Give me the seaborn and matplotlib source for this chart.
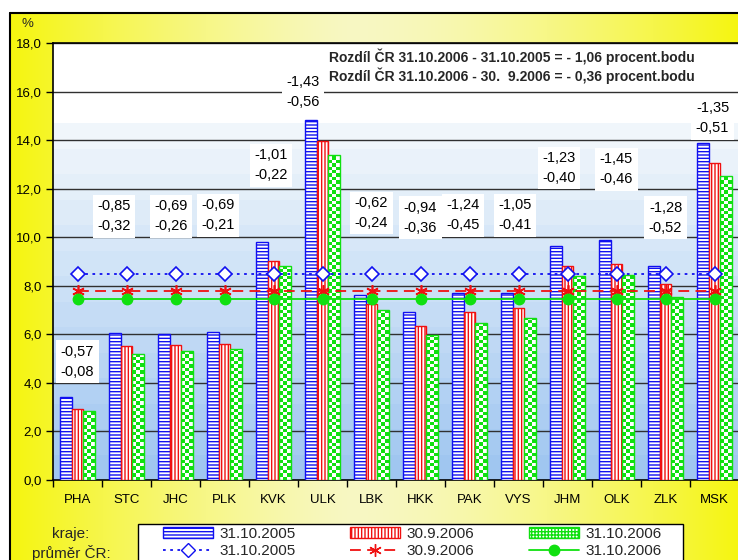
import numpy as np
import pandas as pd
import matplotlib
matplotlib.use("Agg")
import matplotlib.pyplot as plt
import seaborn as sns
from matplotlib.patches import Patch, Rectangle
from matplotlib.lines import Line2D
from matplotlib.colors import ListedColormap

# ---------------- data ----------------
regions = ["PHA", "STC", "JHC", "PLK", "KVK", "ULK", "LBK", "HKK", "PAK", "VYS",
           "JHM", "OLK", "ZLK", "MSK"]
series_labels = ["31.10.2005", "30.9.2006", "31.10.2006"]
val_2005_10 = [3.43, 6.04, 6.00, 6.08, 9.81, 14.83, 7.62, 6.93, 7.71, 7.71, 9.65, 9.88, 8.83, 13.89]
val_2006_09 = [2.94, 5.51, 5.57, 5.60, 9.02, 13.96, 7.24, 6.35, 6.92, 7.07, 8.82, 8.89, 8.07, 13.05]
val_2006_10 = [2.86, 5.19, 5.31, 5.39, 8.80, 13.40, 7.00, 5.99, 6.47, 6.66, 8.42, 8.43, 7.55, 12.54]
avg_2005_10 = 8.50
avg_2006_09 = 7.80
avg_2006_10 = 7.44
diff_year = ["-0,57", "-0,85", "-0,69", "-0,69", "-1,01", "-1,43", "-0,62", "-0,94", "-1,24",
             "-1,05", "-1,23", "-1,45", "-1,28", "-1,35"]
diff_month = ["-0,08", "-0,32", "-0,26", "-0,21", "-0,22", "-0,56", "-0,24", "-0,36", "-0,45",
              "-0,41", "-0,40", "-0,46", "-0,52", "-0,51"]
y_ticks = [0, 2, 4, 6, 8, 10, 12, 14, 16, 18]
note_lines = ["Rozdíl ČR 31.10.2006 - 31.10.2005 = - 1,06 procent.bodu",
              "Rozdíl ČR 31.10.2006 - 30.  9.2006 = - 0,36 procent.bodu"]

# annotation placement (label box centres)
label_y = [4.87, 10.87, 10.87, 10.9, 12.97, 16.0, 11.0, 10.8, 10.9, 10.9, 12.85, 12.8, 10.8, 14.9]
label_dx = [0, -0.25, -0.1, -0.13, -0.05, -0.4, 0, 0, -0.13, -0.08, -0.17, 0, 0, -0.04]

# ---------------- style ----------------
sns.set_theme(style="white")
plt.rcParams["font.family"] = ["Liberation Sans", "DejaVu Sans"]
plt.rcParams["hatch.linewidth"] = 1.0
blue, red, green = "#1010F0", "#F01010", "#10E010"

W, H = 738, 560
fig = plt.figure(figsize=(W / 100, H / 100), dpi=100)
fig.patch.set_facecolor("white")

# outer yellow gradient panel
bg = fig.add_axes([0, 0, 1, 1], zorder=-10)
bg.set_xlim(0, W)
bg.set_ylim(H, 0)
bg.axis("off")
t = np.linspace(0, 1, 400)
s = np.where(t < 0.47, 1 - ((0.47 - t) / 0.47) ** 1.3, 1 - ((t - 0.47) / 0.53) ** 1.6)
yel = np.array([245, 245, 15]) / 255
pale = np.array([248, 248, 195]) / 255
grad = yel[None, :] * (1 - s[:, None]) + pale[None, :] * s[:, None]
bg.imshow(grad[None, :, :], extent=(10, W + 2, H + 2, 13), aspect="auto", interpolation="bilinear")
bg.plot([10, 10], [13, H + 2], color="black", lw=1.5)
bg.plot([10, W + 2], [13, 13], color="black", lw=1.5)
# legend frame (runs past the bottom edge like the reference)
bg.add_patch(Rectangle((138, 524), 683 - 138, 60, facecolor="white", edgecolor="black",
                       lw=1.0, zorder=5))

# main axes
ax_left, ax_right, ax_top, ax_bottom = 53, 739, 43, 480
ax = fig.add_axes([ax_left / W, 1 - ax_bottom / H, (ax_right - ax_left) / W, (ax_bottom - ax_top) / H])
ax.set_xlim(-0.5, len(regions) - 0.5)
ax.set_ylim(0, 18)

# plot-area background: white on top, banded blue gradient below
bands = np.linspace(0, 1, 14)
top_c = np.array([240, 246, 251]) / 255
bot_c = np.array([160, 198, 240]) / 255
band_cols = [bot_c * (1 - b) + top_c * b for b in bands]
edges = np.linspace(0, 14.7, len(bands) + 1)
for i, c in enumerate(band_cols):
    ax.axhspan(edges[i], edges[i + 1], color=c, zorder=0, lw=0)
ax.axhspan(14.7, 18, color="white", zorder=0, lw=0)

# gridlines
for v in y_ticks[1:]:
    ax.axhline(v, color="#303030", lw=1.0, zorder=1)

# bars
df = pd.DataFrame({
    "kraj": regions * 3,
    "hodnota": val_2005_10 + val_2006_09 + val_2006_10,
    "datum": [lab for lab in series_labels for _ in regions],
})
sns.barplot(data=df, x="kraj", y="hodnota", hue="datum", hue_order=series_labels,
            palette=[blue, red, green], width=0.7, saturation=1, legend=False,
            ax=ax, zorder=3)
ax.set_xlim(-0.5, len(regions) - 0.5)
ax.set_ylim(0, 18)

hatches = ["-----", "|||||", None]
cols = [blue, red, green]
fig.canvas.draw()
cell = 3.4
for ci, cont in enumerate(ax.containers):
    for p in cont.patches:
        p.set_edgecolor(cols[ci])
        p.set_linewidth(1.0)
        if ci < 2:
            p.set_facecolor("white")
            p.set_hatch(hatches[ci])
        else:
            p.set_facecolor("none")
            p.set_zorder(3.2)
            x0, y0 = p.get_x(), p.get_y()
            w, h = p.get_width(), p.get_height()
            (px0, py0), (px1, py1) = ax.transData.transform([(x0, y0), (x0 + w, y0 + h)])
            nx = max(1, int(round((px1 - px0) / cell)))
            ny = max(1, int(np.ceil((py1 - py0) / cell)))
            top = y0 + ny * cell * h / max(py1 - py0, 1e-6)
            arr = (np.add.outer(np.arange(ny), np.arange(nx)) % 2).astype(float)
            im = ax.imshow(arr, extent=(x0, x0 + w, y0, top),
                           origin="lower", cmap=ListedColormap(["white", green]),
                           interpolation="nearest", aspect="auto", zorder=3.1)
            im.set_clip_path(p)

ax.set_xlim(-0.5, len(regions) - 0.5)
ax.set_ylim(0, 18)

# average lines
xs = np.arange(len(regions))
ax.plot(xs, [avg_2005_10] * len(xs), ls=(0, (1.5, 2.5)), color=blue, lw=1.3, marker="D",
        ms=7, mfc="white", mec=blue, mew=1.2, zorder=4)
ax.plot(xs, [avg_2006_09] * len(xs), ls=(0, (6, 3.5)), color=red, lw=1.3, marker=(6, 2, 0),
        ms=9, mec=red, mew=1.2, zorder=4)
ax.plot(xs, [avg_2006_10] * len(xs), ls="-", color=green, lw=1.3, marker="o",
        ms=7.5, mfc=green, mec=green, zorder=4)

# difference labels
for i in range(len(regions)):
    ax.text(i + label_dx[i], label_y[i], f"{diff_year[i]}\n{diff_month[i]}", ha="center", va="center",
            fontsize=10.5, linespacing=1.55, color="black", zorder=5,
            bbox=dict(boxstyle="square,pad=0.3", facecolor="white", edgecolor="none"))

# axes styling
ax.set_yticks(y_ticks)
ax.set_yticklabels([f"{v:.1f}".replace(".", ",") for v in y_ticks])
ax.set_xticks(xs)
ax.set_xticklabels(regions)
ax.set_xticks(np.arange(-0.5, len(regions), 1.0), minor=True)
ax.tick_params(axis="x", which="major", length=0, pad=10, labelsize=9.5, colors="black")
ax.tick_params(axis="x", which="minor", length=5, width=1, color="black", direction="out", bottom=True)
ax.tick_params(axis="y", which="major", length=5, width=1, color="black", direction="out",
               left=True, pad=3, labelsize=9.5, labelcolor="black")
ax.set_xlabel("")
ax.set_ylabel("")
for sp in ["left", "bottom", "top"]:
    ax.spines[sp].set_visible(True)
    ax.spines[sp].set_color("black")
    ax.spines[sp].set_linewidth(1.2)
ax.spines["right"].set_visible(False)
ax.grid(False)

# texts
fig.text(27 / W, 1 - 24 / H, "%", ha="center", va="center", fontsize=9.5)
fig.text(329 / W, 1 - 57 / H, note_lines[0], ha="left", va="center", fontsize=10, fontweight="bold")
fig.text(329 / W, 1 - 76 / H, note_lines[1], ha="left", va="center", fontsize=10, fontweight="bold")
fig.text(71 / W, 1 - 534 / H, "kraje:", ha="center", va="center", fontsize=11)
fig.text(71 / W, 1 - 553 / H, "průměr ČR:", ha="center", va="center", fontsize=11)

# legend
handles = [
    Patch(facecolor="white", edgecolor=blue, hatch="-----", lw=1.0),
    Line2D([], [], ls=(0, (1.5, 2.5)), color=blue, lw=1.3, marker="D", ms=7, mfc="white", mec=blue),
    Patch(facecolor="white", edgecolor=red, hatch="|||||", lw=1.0),
    Line2D([], [], ls=(0, (6, 3.5)), color=red, lw=1.3, marker=(6, 2, 0), ms=9, mec=red),
    Patch(facecolor="white", edgecolor=green, hatch="+++++", lw=1.0),
    Line2D([], [], ls="-", color=green, lw=1.3, marker="o", ms=7.5, mfc=green, mec=green),
]
labels = [series_labels[0], series_labels[0], series_labels[1], series_labels[1],
          series_labels[2], series_labels[2]]
leg = fig.legend(handles, labels, ncol=3, loc="upper left",
                 bbox_to_anchor=(163 / W, 1 - 527 / H), fontsize=11, frameon=False,
                 handlelength=3.3, handleheight=0.7, handletextpad=0.4, columnspacing=3.55,
                 labelspacing=0.2, borderpad=0.0, borderaxespad=0)

fig.savefig("out.png", dpi=100, facecolor="white")
